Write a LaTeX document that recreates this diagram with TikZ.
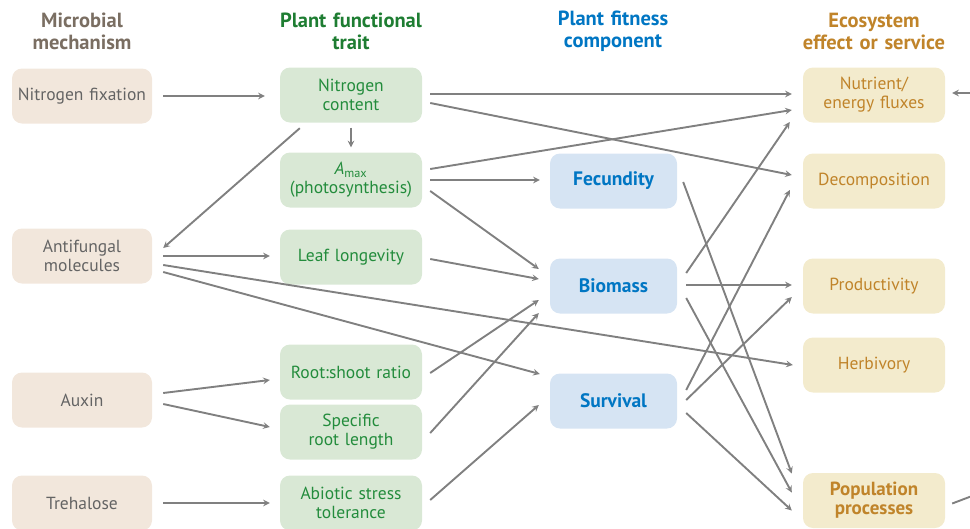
\documentclass[tikz,border=0pt]{standalone}
\usepackage{fontspec}
\setmainfont{PT Sans}
\usetikzlibrary{shapes.geometric, arrows}
\definecolor{mechfill}{RGB}{242,231,220}
\definecolor{mechtext}{RGB}{100,100,100}
\definecolor{mechhead}{RGB}{122,110,98}
\definecolor{traitfill}{RGB}{217,232,213}
\definecolor{traittext}{RGB}{35,140,60}
\definecolor{traithead}{RGB}{30,125,50}
\definecolor{fitfill}{RGB}{214,228,243}
\definecolor{fittext}{RGB}{0,118,195}
\definecolor{ecofill}{RGB}{243,235,205}
\definecolor{ecotext}{RGB}{192,132,42}
\definecolor{linegray}{RGB}{128,128,128}
\tikzstyle{box} = [rectangle, rounded corners=10pt, minimum height=55pt, text centered, inner sep=2pt, font=\fontsize{17.5}{19}\selectfont]
\tikzstyle{mech} = [box, minimum width=140pt, text width=136pt, fill=mechfill, text=mechtext]
\tikzstyle{trait} = [box, minimum width=142pt, text width=138pt, fill=traitfill, text=traittext]
\tikzstyle{fitness} = [box, minimum width=127pt, text width=123pt, fill=fitfill, text=fittext, font=\bfseries\fontsize{19.5}{19}\selectfont]
\tikzstyle{eco} = [box, minimum width=142pt, text width=138pt, fill=ecofill, text=ecotext]
\tikzstyle{head} = [text centered, text width=200pt, font=\bfseries\fontsize{20.5}{22}\selectfont]
\tikzstyle{arrow} = [line width=1.9pt, ->, >=stealth, draw=linegray]

\begin{document}
\begin{tikzpicture}[x=1pt, y=-1pt]
\useasboundingbox (0,0) rectangle (970,528);
% column headers
\node (hmech) [head, text=mechhead] at (82,31) {Microbial\\mechanism};
\node (htrait) [head, text=traithead] at (351,31) {Plant functional\\trait};
\node (hfit) [head, text=fittext] at (613,31) {Plant fitness\\component};
\node (heco) [head, text=ecotext] at (874,31) {Ecosystem\\effect or service};

% microbial mechanisms
\node (nfix) [mech] at (82,96) {Nitrogen fixation};
\node (anti) [mech] at (82,256) {Antifungal\\molecules};
\node (aux) [mech] at (82,400) {Auxin};
\node (treh) [mech] at (82,503) {Trehalose};

% plant traits
\node (ncont) [trait] at (351,95) {Nitrogen\\content};
\node (amax) [trait] at (351,180) {{\itshape A}\textsubscript{max}\\(photosynthesis)};
\node (leaf) [trait] at (351,257) {Leaf longevity};
\node (root) [trait] at (351,372) {Root:shoot ratio};
\node (sroot) [trait] at (351,432) {Specific\\root length};
\node (abio) [trait] at (351,503) {Abiotic stress\\tolerance};

% fitness components
\node (fec) [fitness] at (613.5,181) {Fecundity};
\node (bio) [fitness] at (613.5,286) {Biomass};
\node (surv) [fitness] at (613.5,401) {Survival};

% ecosystem effects
\node (nut) [eco] at (874,95) {Nutrient/\\energy fluxes};
\node (dec) [eco] at (874,181) {Decomposition};
\node (prod) [eco] at (874,286) {Productivity};
\node (herb) [eco] at (874,365) {Herbivory};
\node (pop) [eco, font=\bfseries\fontsize{19}{19}\selectfont] at (874,500.5) {Population\\processes};

\coordinate (influx) at (972,93);
\coordinate (outflux) at (972,496);

% mechanism -> trait
\draw [arrow] ([xshift=11pt]nfix.east) -- ([xshift=-15pt,yshift=-1pt]ncont.west);
\draw [arrow] ([yshift=-5pt]ncont.south) -- ([yshift=5pt]amax.north);
\draw [arrow] ([xshift=20pt,yshift=-5.5pt]ncont.south west) -- ([xshift=11pt,yshift=8pt]anti.east);
\draw [arrow] ([xshift=11pt]anti.east) -- ([xshift=-10pt,yshift=1pt]leaf.west);
\draw [arrow] ([xshift=11pt,yshift=-9pt]anti.east) -- ([xshift=-10pt]herb.west);
\draw [arrow] ([xshift=11pt,yshift=-16pt]anti.east) -- ([xshift=-10pt,yshift=27pt]surv.west);
\draw [arrow] ([xshift=11pt,yshift=7pt]aux.east) -- ([xshift=-10pt,yshift=-8pt]root.west);
\draw [arrow] ([xshift=11pt,yshift=-4pt]aux.east) -- ([xshift=-10pt,yshift=5pt]sroot.west);
\draw [arrow] ([xshift=11pt]treh.east) -- ([xshift=-10pt]abio.west);

% trait -> fitness / ecosystem
\draw [arrow] ([xshift=8pt,yshift=1pt]ncont.east) -- ([xshift=-11pt,yshift=1pt]nut.west);
\draw [arrow] ([xshift=8pt,yshift=-8pt]ncont.east) -- ([xshift=-11pt,yshift=6pt]dec.west);
\draw [arrow] ([xshift=8pt,yshift=11pt]amax.east) -- ([xshift=-11pt,yshift=-15pt]nut.west);
\draw [arrow] ([xshift=8pt]amax.east) -- ([xshift=-10pt,yshift=1pt]fec.west);
\draw [arrow] ([xshift=8pt,yshift=-11pt]amax.east) -- ([xshift=-11pt,yshift=17pt]bio.west);
\draw [arrow] ([xshift=8pt,yshift=-2pt]leaf.east) -- ([xshift=-11pt,yshift=7pt]bio.west);
\draw [arrow] ([xshift=8pt,yshift=-1pt]root.east) -- ([xshift=-11pt,yshift=-14pt]bio.west);
\draw [arrow] ([xshift=8pt,yshift=-1pt]sroot.east) -- ([xshift=-11pt,yshift=-27pt]bio.west);
\draw [arrow] ([xshift=8pt,yshift=3pt]abio.east) -- ([xshift=-11pt,yshift=-4pt]surv.west);

% fitness -> ecosystem
\draw [arrow] ([xshift=6pt,yshift=-1pt]fec.east) -- ([xshift=-11pt,yshift=27pt]pop.west);
\draw [arrow] ([xshift=9pt,yshift=13pt]bio.east) -- ([xshift=-13pt,yshift=-27pt]nut.west);
\draw [arrow] ([xshift=9pt,yshift=1pt]bio.east) -- ([xshift=-11pt,yshift=1pt]prod.west);
\draw [arrow] ([xshift=9pt,yshift=-12pt]bio.east) -- ([xshift=-11pt,yshift=8pt]pop.west);
\draw [arrow] ([xshift=9pt,yshift=11pt]surv.east) -- ([xshift=-13pt,yshift=-9pt]dec.west);
\draw [arrow] ([xshift=9pt,yshift=1pt]surv.east) -- ([xshift=-11pt,yshift=-11pt]prod.west);
\draw [arrow] ([xshift=9pt,yshift=-12pt]surv.east) -- ([xshift=-11pt,yshift=-10pt]pop.west);

% links leaving the picture
\draw [arrow] (influx) -- ([xshift=7pt,yshift=2pt]nut.east);
\draw [line width=1.9pt, draw=linegray] ([xshift=7pt,yshift=-3pt]pop.east) -- (outflux);
\end{tikzpicture}
\end{document}
